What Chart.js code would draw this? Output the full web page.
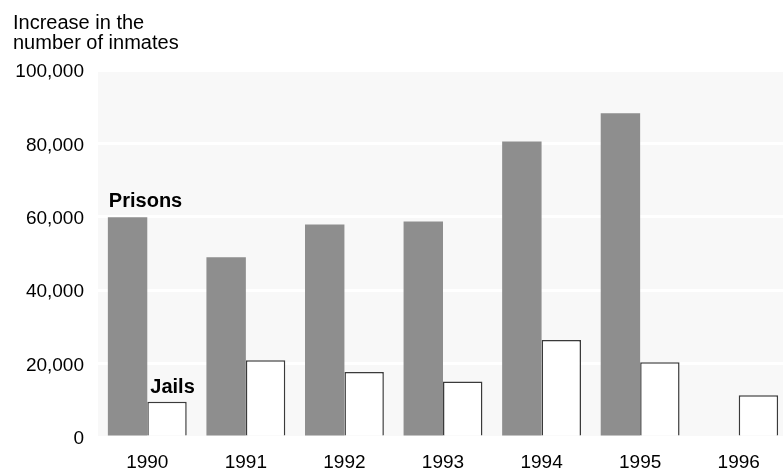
<!DOCTYPE html>
<html>
<head>
<meta charset="utf-8">
<script src="https://cdn.jsdelivr.net/npm/chart.js@4/dist/chart.umd.min.js"></script>
<style>
  html, body { margin: 0; padding: 0; background: #ffffff; overflow: hidden; }
  #wrap { width: 790px; height: 470px; }
</style>
</head>
<body>
<div id="wrap"><canvas id="c" width="790" height="470"></canvas></div>
<script>
const years = ['1990', '1991', '1992', '1993', '1994', '1995', '1996'];
const seriesNames = ['Prisons', 'Jails'];
const prisons = [59900, 49000, 57900, 58700, 80500, 88200, null];
const jails = [9600, 20900, 17700, 15100, 26400, 20400, 11400];
const yTicks = [0, 20000, 40000, 60000, 80000, 100000];
const axisTitleLines = ['Increase in the', 'number of inmates'];

const FONT = '"Liberation Sans", Arial, sans-serif';

const bgPlugin = {
  id: 'bg',
  beforeDraw(chart) {
    const { ctx, chartArea: a } = chart;
    ctx.save();
    ctx.fillStyle = '#f8f8f8';
    ctx.fillRect(a.left, a.top, a.right - a.left, a.bottom - a.top);
    ctx.restore();
  }
};

const textPlugin = {
  id: 'texts',
  afterDraw(chart) {
    const ctx = chart.ctx;
    ctx.save();
    ctx.fillStyle = '#000';
    ctx.textAlign = 'left';
    ctx.textBaseline = 'alphabetic';
    ctx.font = '20px ' + FONT;
    axisTitleLines.forEach((t, i) => ctx.fillText(t, 13, 29 + i * 20));
    ctx.font = 'bold 20px ' + FONT;
    const p = chart.getDatasetMeta(0).data[0];
    ctx.fillText(seriesNames[0], p.x - p.width / 2 + 1, p.y - 10);
    const j = chart.getDatasetMeta(1).data[0];
    ctx.fillText(seriesNames[1], j.x - j.width / 2 + 3, j.y - 9);
    ctx.restore();
  }
};

new Chart(document.getElementById('c'), {
  type: 'bar',
  data: {
    labels: years,
    datasets: [
      { label: seriesNames[0], data: prisons, backgroundColor: '#8e8e8e', borderWidth: 0 },
      { label: seriesNames[1], data: jails, backgroundColor: '#ffffff', borderColor: '#3a3a3a', borderWidth: 1.5 }
    ]
  },
  options: {
    responsive: false,
    animation: false,
    events: [],
    layout: { padding: { top: 70, right: 2, left: 0, bottom: 0 } },
    datasets: { bar: { categoryPercentage: 0.8, barPercentage: 1.0 } },
    plugins: { legend: { display: false }, tooltip: { enabled: false }, title: { display: false } },
    scales: {
      x: {
        grid: { display: false, drawTicks: false },
        border: { display: false },
        ticks: { color: '#000', font: { family: FONT, size: 19 }, padding: 14, maxRotation: 0 },
        afterFit(s) { s.height = 33; }
      },
      y: {
        min: 0, max: 100000,
        afterBuildTicks(s) { s.ticks = yTicks.map(v => ({ value: v })); },
        grid: { color: '#ffffff', lineWidth: 3, drawTicks: false },
        border: { display: false },
        ticks: {
          color: '#000', font: { family: FONT, size: 19 }, padding: 14, labelOffset: 2,
          callback: v => Number(v).toLocaleString('en-US')
        },
        afterFit(s) { s.width = 98; }
      }
    }
  },
  plugins: [bgPlugin, textPlugin]
});
</script>
</body>
</html>
